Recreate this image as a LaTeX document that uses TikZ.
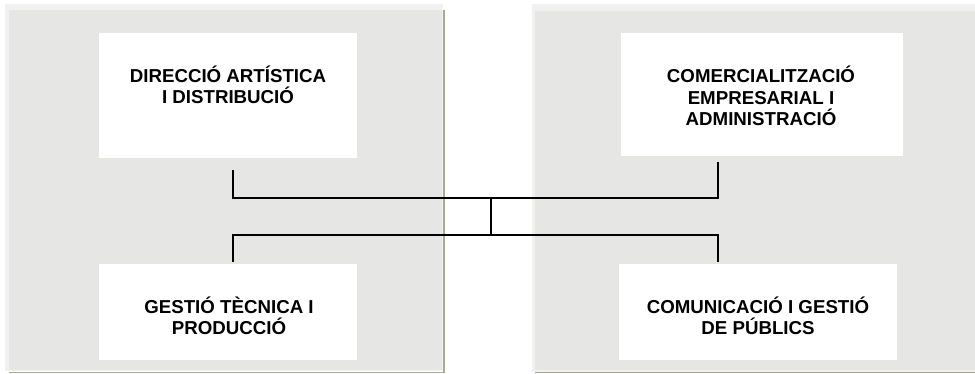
\documentclass[tikz,border=0pt]{standalone}
\usepackage{fontspec}
\setmainfont{Liberation Sans}
\usetikzlibrary{positioning}

\definecolor{panelgray}{RGB}{230,230,229}
\definecolor{panelrim}{RGB}{241,241,241}
\definecolor{panelshadow}{RGB}{164,174,143}

\tikzset{
  unitbox/.style={fill=white, inner sep=0pt},
  unitlabel/.style={align=center, inner sep=0pt, font=\bfseries\fontsize{18.7}{21.5}\selectfont},
  link/.style={line width=1.5pt}
}

\begin{document}
\begin{tikzpicture}[x=1pt, y=-1pt]
      \useasboundingbox (0,0) rectangle (975,373);
      % two grey panels
      \fill[panelrim] (5,4) rectangle (443,371);
      \fill[panelgray] (9,10) rectangle (442,369.5);
      \fill[panelshadow] (443,10) rectangle (445,373);
      \fill[panelshadow] (9,371.5) rectangle (445,373);
      \fill[panelrim] (532,4) rectangle (975,371.5);
      \fill[panelgray] (535,11) rectangle (975,370);
      \fill[panelshadow] (535,371.5) rectangle (975,373);
      % white boxes
      \node[unitbox, minimum width=258pt, minimum height=125pt] (dir) at (228,95.5) {};
      \node[unitbox, minimum width=258pt, minimum height=96pt] (tec) at (228,312) {};
      \node[unitbox, minimum width=282pt, minimum height=123pt] (com) at (762,94.5) {};
      \node[unitbox, minimum width=278pt, minimum height=96pt] (pub) at (758,312) {};
      \node[unitlabel] (dirtext) at (228,85) {DIRECCIÓ ARTÍSTICA\\I DISTRIBUCIÓ};
      \node[unitlabel] (tectext) at (229,316) {GESTIÓ TÈCNICA I\\PRODUCCIÓ};
      \node[unitlabel] (comtext) at (761,96) {COMERCIALITZACIÓ\\EMPRESARIAL I\\ADMINISTRACIÓ};
      \node[unitlabel] (pubtext) at (758,316) {COMUNICACIÓ I GESTIÓ\\DE PÚBLICS};
      % connectors
      \coordinate (dirend) at (233,170);
      \coordinate (comend) at (718,162);
      \coordinate (tecend) at (233,262);
      \coordinate (pubend) at (718,262);
      \coordinate (hubtop) at (491,198);
      \coordinate (hubbot) at (491,235);
      \draw[link] (dirend) |- (hubtop) -| (comend);
      \draw[link] (tecend) |- (hubbot) -| (pubend);
      \draw[link] (hubtop) -- (hubbot);
    \end{tikzpicture}
\end{document}
